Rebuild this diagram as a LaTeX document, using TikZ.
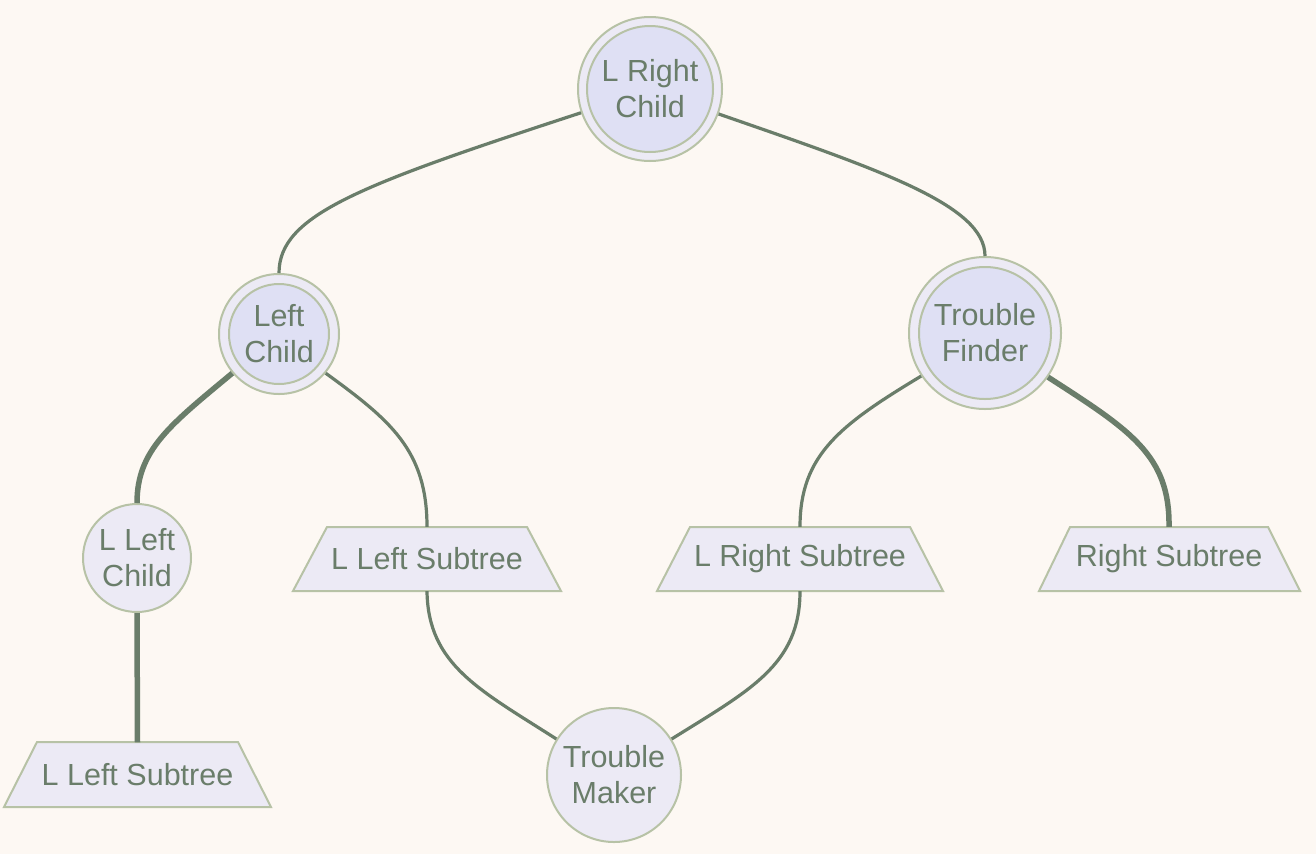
\documentclass[tikz,border=0pt]{standalone}
\usepackage{fontspec}
\setmainfont{Liberation Sans}
\definecolor{bgc}{HTML}{FDF8F3}
\definecolor{ringfill}{HTML}{ECEAF5}
\definecolor{innerfill}{HTML}{DFE0F4}
\definecolor{bordc}{HTML}{B7C2A6}
\definecolor{txtc}{HTML}{6A7D6A}
\definecolor{edgec}{HTML}{6A7D6A}
\tikzset{
  every node/.style={font=\fontsize{30.5}{36}\selectfont, text=txtc, align=center},
  ring/.style={circle, draw=bordc, line width=2pt, fill=ringfill, inner sep=0pt},
  core/.style={circle, draw=bordc, line width=2pt, fill=innerfill, inner sep=0pt},
  single/.style={circle, draw=bordc, line width=2pt, fill=ringfill, inner sep=0pt},
  trapshape/.style={draw=bordc, line width=2pt, fill=ringfill, line join=miter},
  traptext/.style={rectangle, inner sep=0pt, minimum height=64pt},
  thin/.style={draw=edgec, line width=3.2pt},
  thick/.style={draw=edgec, line width=5.5pt},
}
\begin{document}
\begin{tikzpicture}[x=1pt,y=-1pt]
\useasboundingbox[fill=bgc] (0,0) rectangle (1316,854);
\coordinate (cTop) at (650,89);
\coordinate (cLC) at (279,334);
\coordinate (cTF) at (985,333);
\coordinate (cLLC) at (137,558);
\coordinate (cTM) at (614,775);

% trapezoid shapes
\path[trapshape] (37,742) -- (238,742) -- (271,807) -- (4,807) -- cycle;
\path[trapshape] (327,527) -- (527,527) -- (561,591) -- (293,591) -- cycle;
\path[trapshape] (690,527) -- (910,527) -- (943,591) -- (657,591) -- cycle;
\path[trapshape] (1070,527) -- (1268,527) -- (1300,591) -- (1039,591) -- cycle;

% nodes
\node[ring, minimum size=144pt] (top) at (cTop) {};
\node[core, minimum size=126pt] (topi) at (cTop) {L Right\\Child};
\node[ring, minimum size=120pt] (lc) at (cLC) {};
\node[core, minimum size=100pt] (lci) at (cLC) {Left\\Child};
\node[ring, minimum size=152pt] (tf) at (cTF) {};
\node[core, minimum size=132pt] (tfi) at (cTF) {Trouble\\Finder};
\node[single, minimum size=108pt] (llc) at (cLLC) {L Left\\Child};
\node[single, minimum size=134pt] (tm) at (cTM) {Trouble\\Maker};
\node[traptext, minimum width=201pt] (lls) at (137.5,774.5) {L Left Subtree};
\node[traptext, minimum width=200pt] (mls) at (427,559) {L Left Subtree};
\node[traptext, minimum width=220pt] (lrs) at (800,559) {L Right Subtree};
\node[traptext, minimum width=198pt] (rs) at (1169,559) {Right Subtree};

% connectors
\draw[thin] (top.199) .. controls (360,185) and (279,215) .. (lc.north);
\draw[thin] (top.340) .. controls (880,170) and (985,205) .. (tf.north);
\draw[thick] (lc.220) .. controls (170,425) and (137,450) .. (llc.north);
\draw[thin] (lc.320) .. controls (390,420) and (427,450) .. (mls.north);
\draw[thick] (llc.south) -- (lls.north);
\draw[thin] (tf.214) .. controls (840,425) and (800,455) .. (lrs.north);
\draw[thick] (tf.325) .. controls (1130,430) and (1170,455) .. (rs.north);
\draw[thin] (mls.south) .. controls (428,665) and (480,690) .. (tm.148);
\draw[thin] (lrs.south) .. controls (800,665) and (750,690) .. (tm.32);
\end{tikzpicture}
\end{document}
